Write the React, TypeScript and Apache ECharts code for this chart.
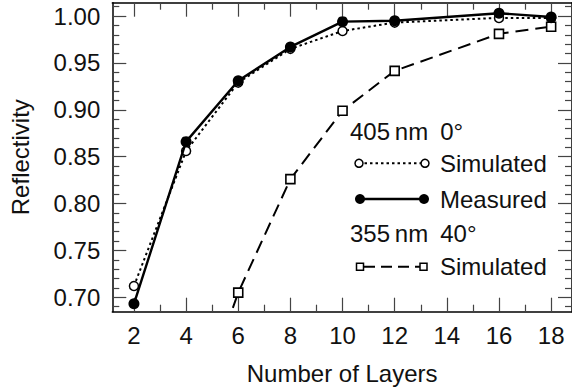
import React, { useEffect, useRef } from "react";
import * as echarts from "echarts";

const layers = [2, 4, 6, 8, 10, 12, 16, 18];
const sim405 = [0.712, 0.856, 0.929, 0.965, 0.984, 0.993, 0.998, 0.998];
const meas405 = [0.693, 0.866, 0.931, 0.967, 0.994, 0.995, 1.003, 0.999];
const layers355 = [4, 6, 8, 10, 12, 16, 18];
const sim355 = [0.548, 0.705, 0.826, 0.899, 0.9415, 0.981, 0.9886];

const xMajor = [2, 4, 6, 8, 10, 12, 14, 16, 18];
const xMinor = [3, 5, 7, 9, 11, 13, 15, 17];
const yMajor = [0.7, 0.75, 0.8, 0.85, 0.9, 0.95, 1.0];
const yMinor = [0.69, 0.71, 0.72, 0.73, 0.74, 0.76, 0.77, 0.78, 0.79, 0.81, 0.82, 0.83, 0.84, 0.86, 0.87, 0.88, 0.89, 0.91, 0.92, 0.93, 0.94, 0.96, 0.97, 0.98, 0.99, 1.01];

const FONT = "'Liberation Sans', Arial, Helvetica, sans-serif";
const X_MIN = 1.17;
const X_MAX = 18.8;
const Y_MIN = 0.6846;
const Y_MAX = 1.0142;
const TICK_COLOR = "#444";

function xAx(position: "bottom" | "top", major: boolean, labels: boolean, name?: string): any {
  return {
    type: "value",
    position,
    min: X_MIN,
    max: X_MAX,
    name,
    nameLocation: "middle",
    nameGap: 50,
    nameTextStyle: { fontFamily: FONT, fontSize: 24, color: "#111" },
    axisLine: { show: major, onZero: false, lineStyle: { color: "#000", width: 1.5 } },
    axisTick: {
      show: true,
      inside: true,
      length: major ? 14 : 7,
      customValues: major ? xMajor : xMinor,
      lineStyle: { color: TICK_COLOR, width: 1.2 },
    },
    axisLabel: labels
      ? { show: true, customValues: xMajor, margin: 12, fontFamily: FONT, fontSize: 24, color: "#111" }
      : { show: false },
    splitLine: { show: false },
  };
}

function yAx(position: "left" | "right", major: boolean, labels: boolean, name?: string): any {
  return {
    type: "value",
    position,
    min: Y_MIN,
    max: Y_MAX,
    name,
    nameLocation: "middle",
    nameGap: 80,
    nameTextStyle: { fontFamily: FONT, fontSize: 24, color: "#111" },
    axisLine: { show: major, onZero: false, lineStyle: { color: "#000", width: 1.5 } },
    axisTick: {
      show: true,
      inside: true,
      length: major ? 14 : 7,
      customValues: major ? yMajor : yMinor,
      lineStyle: { color: TICK_COLOR, width: 1.2 },
    },
    axisLabel: labels
      ? {
          show: true,
          customValues: yMajor,
          margin: 12,
          fontFamily: FONT,
          fontSize: 24,
          color: "#111",
          formatter: (v: number) => v.toFixed(2),
        }
      : { show: false },
    splitLine: { show: false },
  };
}

export default function App() {
  const ref = useRef<HTMLDivElement>(null);
  useEffect(() => {
    if (!ref.current) return;
    const chart = echarts.init(ref.current, null, { renderer: "svg" });
    const legendText = (x: number, y: number, t: string) => ({
      type: "text",
      x,
      y,
      style: { text: t, fontFamily: FONT, fontSize: 24, fill: "#111", verticalAlign: "middle", align: "left" },
    });
    const option: any = {
      animation: false,
      backgroundColor: "#fff",
      grid: { left: 112.3, right: -3.7, top: 2.7, bottom: 80.3, containLabel: false },
      xAxis: [
        xAx("bottom", true, true, "Number of Layers"),
        xAx("bottom", false, false),
        xAx("top", true, false),
        xAx("top", false, false),
      ],
      yAxis: [
        yAx("left", true, true, "Reflectivity"),
        yAx("left", false, false),
        yAx("right", true, false),
        yAx("right", false, false),
      ],
      series: [
        {
          name: "Simulated 355",
          type: "line",
          data: layers355.map((x, i) => [x, sim355[i]]),
          symbol: "rect",
          symbolSize: 9,
          lineStyle: { color: "#000", width: 2, type: [13, 7] },
          itemStyle: { color: "#fff", borderColor: "#000", borderWidth: 1.6 },
          clip: true,
          z: 2,
        },
        {
          name: "Simulated 405",
          type: "line",
          data: layers.map((x, i) => [x, sim405[i]]),
          symbol: "circle",
          symbolSize: 9,
          lineStyle: { color: "#000", width: 2, type: [2.5, 3] },
          itemStyle: { color: "#fff", borderColor: "#000", borderWidth: 1.5 },
          clip: true,
          z: 3,
        },
        {
          name: "Measured 405",
          type: "line",
          data: layers.map((x, i) => [x, meas405[i]]),
          symbol: "circle",
          symbolSize: 11,
          lineStyle: { color: "#000", width: 2.4, type: "solid" },
          itemStyle: { color: "#000", borderColor: "#000", borderWidth: 0 },
          clip: true,
          z: 4,
        },
      ],
      graphic: [
        legendText(350, 131, "405\u2009nm\u20020°"),
        { type: "line", shape: { x1: 359, y1: 163.3, x2: 425, y2: 163.3 }, style: { stroke: "#000", lineWidth: 2, lineDash: [2.5, 3] } },
        { type: "circle", shape: { cx: 359, cy: 163.3, r: 4 }, style: { fill: "#fff", stroke: "#000", lineWidth: 1.5 } },
        { type: "circle", shape: { cx: 425, cy: 163.3, r: 4 }, style: { fill: "#fff", stroke: "#000", lineWidth: 1.5 } },
        legendText(440, 163.3, "Simulated"),
        { type: "line", shape: { x1: 360, y1: 199, x2: 424, y2: 199 }, style: { stroke: "#000", lineWidth: 2.4 } },
        { type: "circle", shape: { cx: 360, cy: 199, r: 5 }, style: { fill: "#000" } },
        { type: "circle", shape: { cx: 424, cy: 199, r: 5 }, style: { fill: "#000" } },
        legendText(440, 199, "Measured"),
        legendText(350, 233, "355\u2009nm\u200240°"),
        { type: "line", shape: { x1: 364, y1: 266.7, x2: 420, y2: 266.7 }, style: { stroke: "#000", lineWidth: 2, lineDash: [11, 6] } },
        { type: "rect", shape: { x: 356.5, y: 263.2, width: 7, height: 7 }, style: { fill: "#fff", stroke: "#000", lineWidth: 1.5 } },
        { type: "rect", shape: { x: 420, y: 263.2, width: 7, height: 7 }, style: { fill: "#fff", stroke: "#000", lineWidth: 1.5 } },
        legendText(440, 266.7, "Simulated"),
      ],
    };
    chart.setOption(option);
    return () => chart.dispose();
  }, []);
  return (
    <div
      ref={ref}
      style={{ position: "fixed", left: 0, top: 0, width: 572, height: 392, background: "#fff" }}
    />
  );
}
